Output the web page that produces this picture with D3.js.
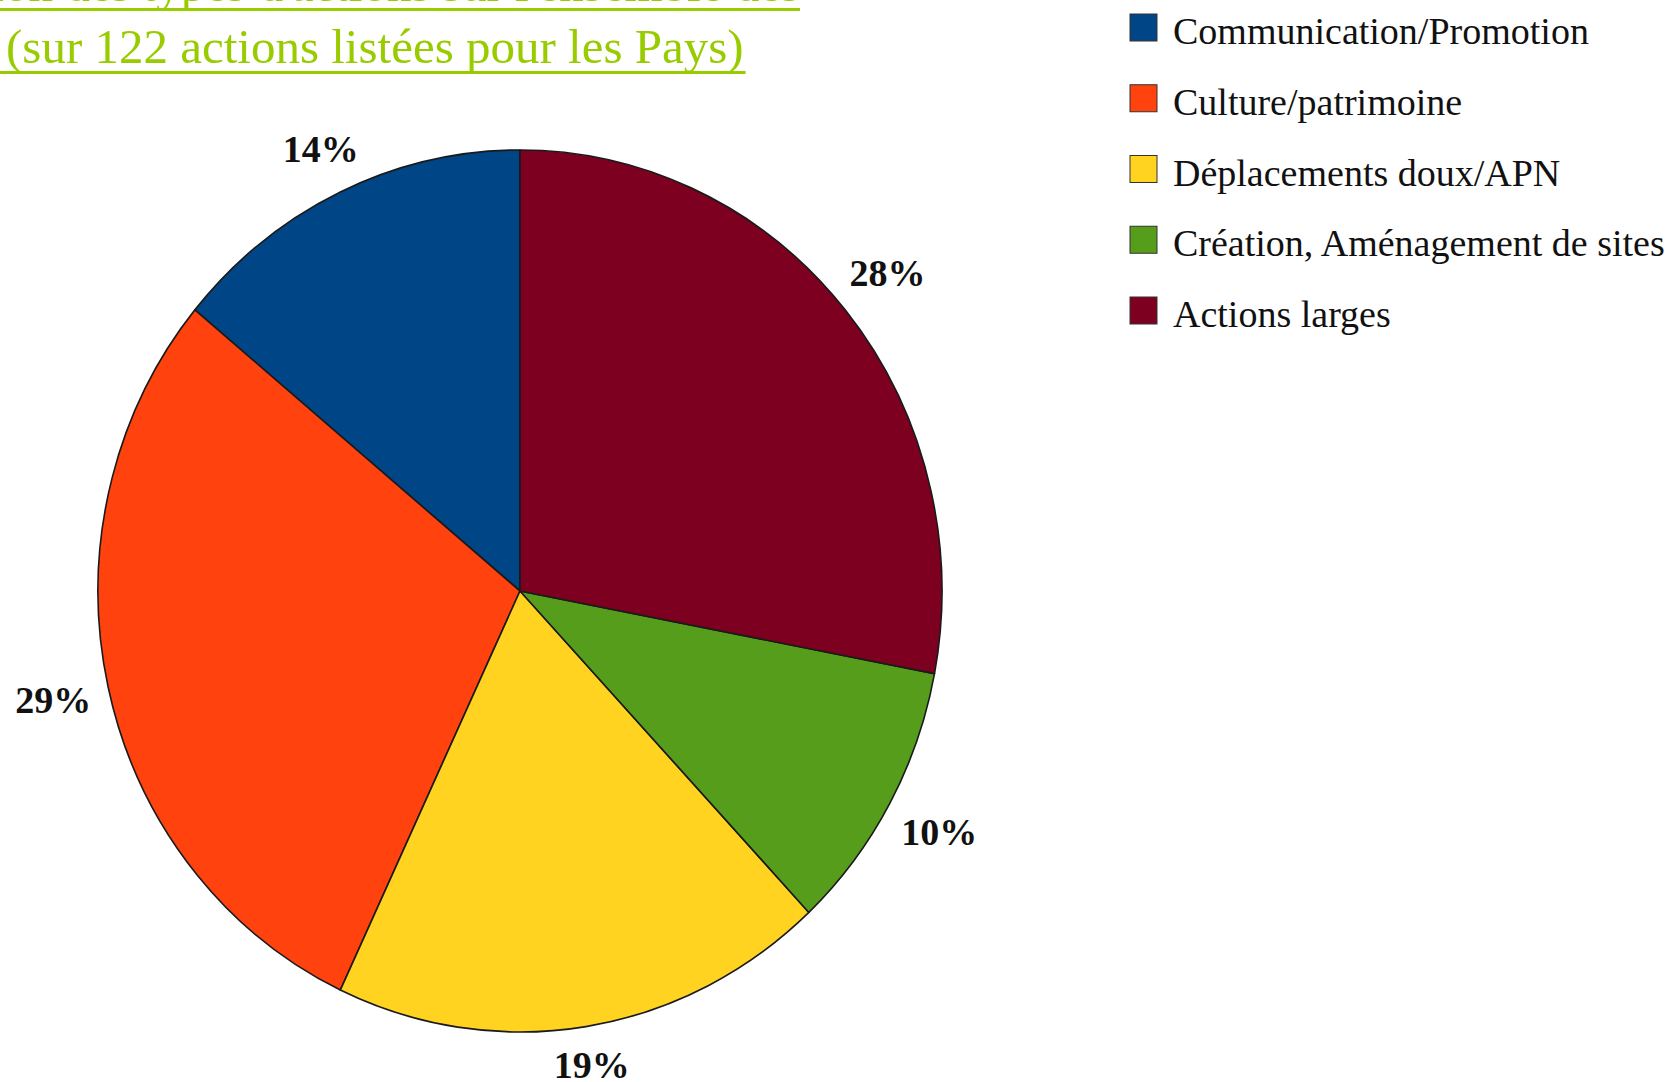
<!DOCTYPE html>
<html>
<head>
<meta charset="utf-8">
<script src="https://cdn.jsdelivr.net/npm/d3@7"></script>
<style>
  body { margin: 0; background: #fff; }
  svg { display: block; }
</style>
</head>
<body>
<svg id="chart"></svg>
<script>
const categories = ['Communication/Promotion', 'Culture/patrimoine', 'Déplacements doux/APN', 'Création, Aménagement de sites', 'Actions larges'];
const values = [14, 29, 19, 10, 28];
const colors = ['#004586', '#ff420e', '#ffd320', '#579d1c', '#7e0021'];
const titleLines = ["Répartition des types d'actions sur l'ensemble des", '(sur 122 actions listées pour les Pays)'];

const width = 1672;
const height = 1082;
const cx = 520, cy = 591;
const rx = 422, ry = 441;
const ys = ry / rx;

const svg = d3.select('#chart')
  .attr('width', width)
  .attr('height', height);

// Title (top line is cut off by the page edge)
const green = '#99cc00';
svg.append('text')
  .attr('x', 800).attr('y', 1)
  .attr('text-anchor', 'end')
  .attr('font-family', 'Liberation Serif')
  .attr('font-size', 49)
  .attr('fill', green)
  .text(titleLines[0]);
svg.append('rect')
  .attr('x', 0).attr('y', 8).attr('width', 800).attr('height', 3)
  .attr('fill', green);

const title2 = svg.append('text')
  .attr('x', 6).attr('y', 63)
  .attr('font-family', 'Liberation Serif')
  .attr('font-size', 49)
  .attr('fill', green)
  .text(titleLines[1]);
const t2w = title2.node().getComputedTextLength();
svg.append('rect')
  .attr('x', 0).attr('y', 71).attr('width', t2w + 8).attr('height', 3)
  .attr('fill', green);

// Pie (slices go counter-clockwise from 12 o'clock)
const pie = d3.pie().sort(null).startAngle(0).endAngle(-2 * Math.PI);
const arcs = pie(values);

const arc = d3.arc().innerRadius(0).outerRadius(rx);

const g = svg.append('g')
  .attr('transform', `translate(${cx},${cy}) scale(1,${ys})`);

g.selectAll('path')
  .data(arcs)
  .enter()
  .append('path')
  .attr('d', arc)
  .attr('fill', (d, i) => colors[i])
  .attr('stroke', '#1a1a1a')
  .attr('stroke-width', 1.6)
  .attr('stroke-linejoin', 'round');

// Percent labels: text box kept a fixed gap outside the rim
const labelGap = 438;
const labels = svg.append('g')
  .attr('transform', `translate(${cx},${cy})`)
  .selectAll('text')
  .data(arcs)
  .enter()
  .append('text')
  .attr('text-anchor', 'middle')
  .attr('dominant-baseline', 'central')
  .attr('font-family', 'Liberation Serif')
  .attr('font-weight', 'bold')
  .attr('font-size', 38)
  .attr('fill', '#111')
  .text(d => d.data + '%');

labels.each(function(d) {
  const w = this.getComputedTextLength();
  const h = 30;
  const a = (d.startAngle + d.endAngle) / 2;
  const s = Math.sin(a), c = Math.cos(a);
  const r = labelGap + (w / 2) * Math.abs(s) + (h / 2) * Math.abs(c);
  d3.select(this)
    .attr('x', r * s)
    .attr('y', -r * c * ys);
});

// Legend
const legendY = d3.scalePoint()
  .domain(categories)
  .range([27, 310]);

const legend = svg.append('g')
  .selectAll('g')
  .data(categories)
  .enter()
  .append('g')
  .attr('transform', d => `translate(1130,${legendY(d)})`);

legend.append('rect')
  .attr('x', 0).attr('y', -13)
  .attr('width', 27).attr('height', 27)
  .attr('fill', (d, i) => colors[i])
  .attr('stroke', '#333')
  .attr('stroke-width', 1);

legend.append('text')
  .attr('x', 43).attr('y', 17)
  .attr('font-family', 'Liberation Serif')
  .attr('font-size', 38)
  .attr('fill', '#111')
  .text(d => d);
</script>
</body>
</html>
